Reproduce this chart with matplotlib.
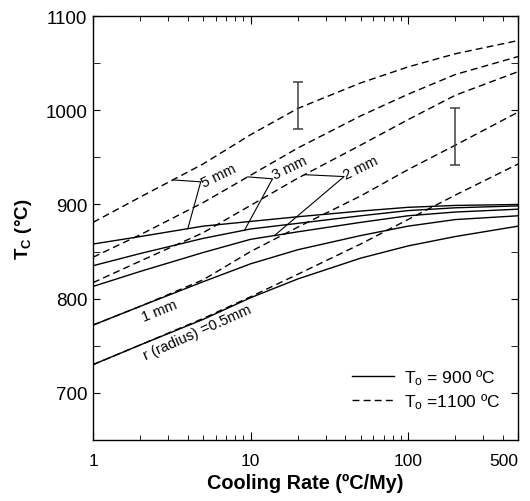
import matplotlib
matplotlib.use('Agg')
import matplotlib.pyplot as plt
import numpy as np

plt.rcParams['font.family'] = ['Liberation Sans', 'DejaVu Sans']
plt.rcParams['mathtext.fontset'] = 'custom'
plt.rcParams['mathtext.rm'] = 'Liberation Sans'
plt.rcParams['mathtext.it'] = 'Liberation Sans:italic'
plt.rcParams['mathtext.bf'] = 'Liberation Sans:bold'

# cooling rates (ºC/My) where the curves were read
rate = [1, 2, 5, 10, 20, 50, 100, 200, 500]

# To = 900 ºC (solid)
s_05 = [730, 751, 778, 801, 821, 843, 856, 866, 877]
s_1 = [772, 792, 818, 837, 852, 867, 877, 884, 888]
s_2 = [813, 829, 849, 863, 871, 881, 888, 892, 895]
s_3 = [835, 848, 864, 874, 880, 888, 893.5, 896.5, 898.5]
s_5 = [858, 866, 877, 882, 887, 893, 897, 899, 900]

# To = 1100 ºC (dashed)
d_05 = [730, 751, 779, 802, 826, 858, 884, 910, 943]
d_1 = [772, 792, 820, 850, 876, 909, 937, 963, 998]
d_2 = [817, 840, 870, 899, 928, 963, 990, 1016, 1041]
d_3 = [844, 868, 902, 931, 960, 994, 1017, 1038, 1057]
d_5 = [881, 908, 943, 974, 1002, 1029, 1046, 1060, 1074]

# measured values with error bars
err_x = [20, 200]
err_y = [1005, 972]
err_e = [25, 30]

fig = plt.figure(figsize=(5.3, 5.02), dpi=100)
ax = fig.add_axes([0.1755, 0.1215, 0.802, 0.8445])

for s in [s_05, s_1, s_2, s_3, s_5]:
    ax.plot(rate, s, color='black', lw=1.0)
for d in [d_05, d_1, d_2, d_3, d_5]:
    ax.plot(rate, d, color='black', lw=1.0, dashes=(5, 3))

ax.errorbar(err_x, err_y, yerr=err_e, fmt='none', ecolor='#404040', elinewidth=1.1, capsize=3.5, capthick=1.1)

# legend handles
ax.plot([], [], color='black', lw=1.0, label='T$_\\mathrm{o}$ = 900 ºC')
ax.plot([], [], color='black', lw=1.0, dashes=(5, 3), label='T$_\\mathrm{o}$ =1100 ºC')
h, l = ax.get_legend_handles_labels()
ax.legend(h[-2:], l[-2:], loc='lower right', bbox_to_anchor=(0.959, 0.068), frameon=False,
          fontsize=12.5, handlelength=2.4, handletextpad=0.6, labelspacing=0.25,
          borderpad=0, borderaxespad=0)


def on_curve(xv, xs, ys):
    return np.interp(np.log10(xv), np.log10(xs), ys)


# leader lines: dashed curve -> corner -> solid curve
leaders = [(3.21, 4.83, 4.0, d_5, s_5, '5 mm', 5.1, 919),
           (9.6, 13.8, 9.17, d_3, s_3, '3 mm', 14.3, 927),
           (22.0, 39.3, 14.2, d_2, s_2, '2 mm', 40.3, 927)]
for xa, xc, xb, dc, sc, txt, tx, ty in leaders:
    ya = on_curve(xa, rate, dc)
    yb = on_curve(xb, rate, sc)
    ax.plot([xa, xc, xb], [ya, ya - 2, yb], color='black', lw=0.8)
    ax.text(tx, ty, txt, fontsize=10.5, rotation=26, rotation_mode='anchor', ha='left', va='baseline')

ax.text(2.1, 776, '1 mm', fontsize=10.5, rotation=22, rotation_mode='anchor', ha='left', va='baseline')
ax.text(2.16, 736, 'r (radius) =0.5mm', fontsize=10.5, rotation=24, rotation_mode='anchor', ha='left', va='baseline')

ax.set_xscale('log')
ax.set_xlim(1, 500)
ax.set_ylim(650, 1100)
ax.set_xticks([1, 10, 100, 500])
ax.set_xticklabels(['1', '10', '100', '500'])
ax.get_xticklabels()[-1].set_horizontalalignment('right')
ax.set_yticks([700, 800, 900, 1000, 1100])
ax.set_yticks([650, 750, 850, 950, 1050], minor=True)
ax.tick_params(which='both', direction='in', top=True, right=True)
ax.tick_params(axis='y', which='both', length=5, pad=4, labelsize=13.5)
ax.tick_params(axis='x', which='major', length=6, pad=9, labelsize=12.5)
ax.tick_params(axis='x', which='minor', length=3.5)
for sp in ax.spines.values():
    sp.set_linewidth(1.0)

ax.set_xlabel('Cooling Rate (ºC/My)', fontsize=14.3, fontweight='bold', labelpad=4)
ax.set_ylabel('$\\mathbf{T_C}$ $\\mathbf{(°C)}$', fontsize=13.5, labelpad=8)

fig.savefig('out.png', dpi=100)
